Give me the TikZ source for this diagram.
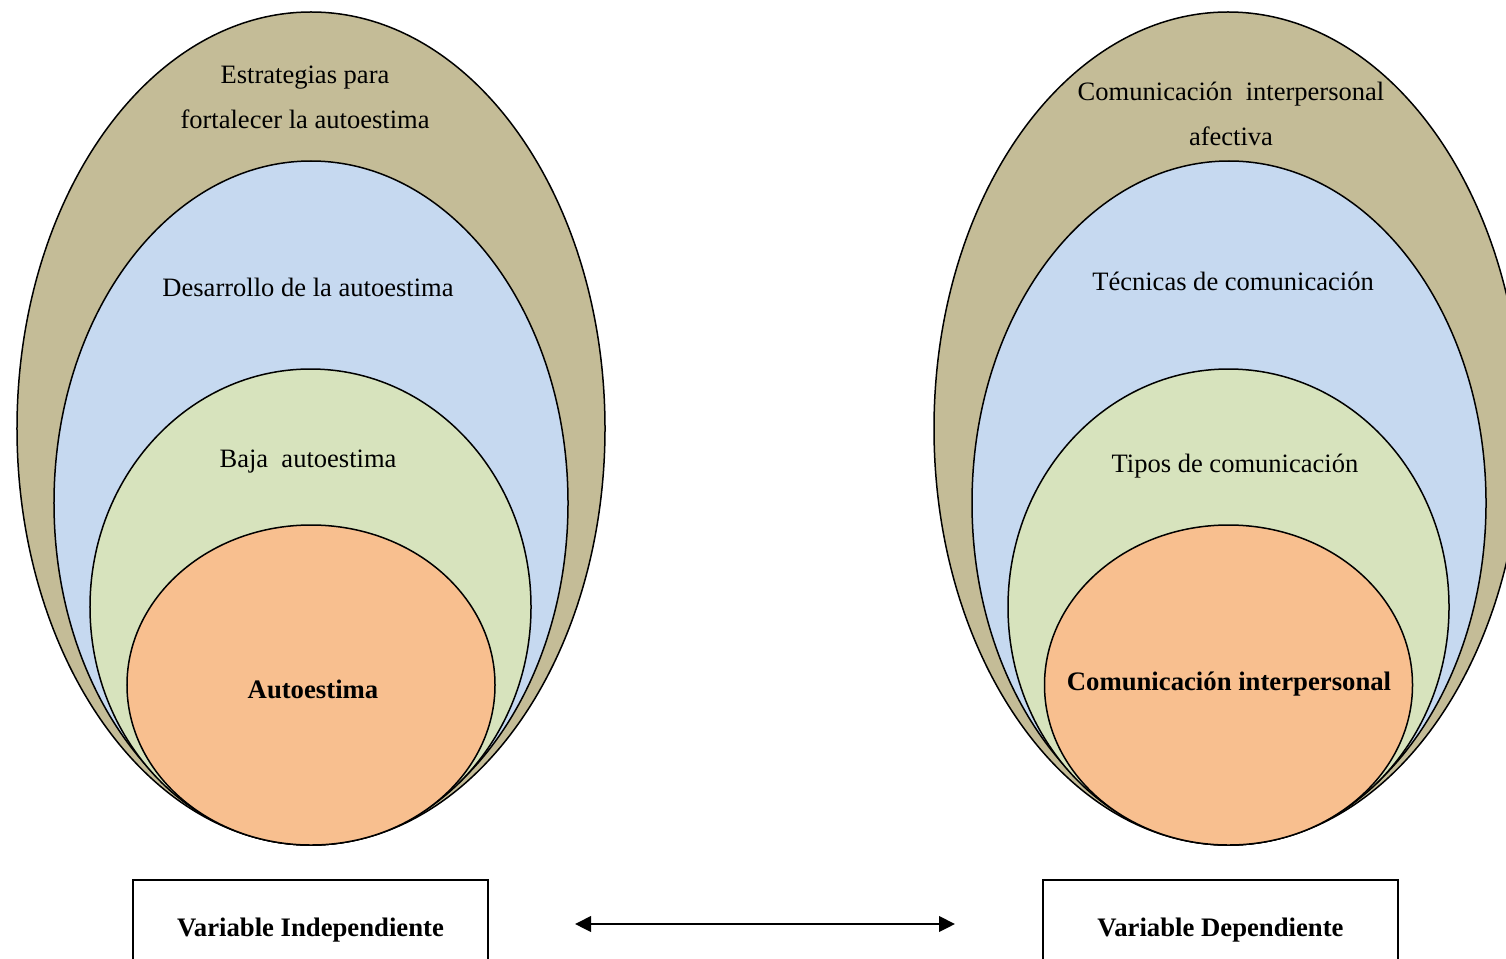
\documentclass[tikz,border=0pt]{standalone}
\usepackage{fontspec}
\setmainfont{Liberation Serif}
\usetikzlibrary{arrows.meta,shapes.geometric}

\definecolor{ringtan}{HTML}{C4BC97}
\definecolor{ringblue}{HTML}{C6D9F0}
\definecolor{ringgreen}{HTML}{D7E3BD}
\definecolor{ringorange}{HTML}{F8BF8F}

\begin{document}
\begin{tikzpicture}[x=0.2mm,y=-0.2mm,
    ring/.style={ellipse,draw=black,line width=0.3mm,inner sep=0pt},
    lbl/.style={align=center,font=\fontsize{15.1}{25.6}\selectfont},
    varbox/.style={draw=black,line width=0.3mm,minimum width=71mm,minimum height=20mm,
      font=\bfseries\fontsize{15.2}{18}\selectfont}]
  \useasboundingbox (0,0) rectangle (1506,958);
  \clip (0,0) rectangle (1506,958);
  % left side
  \node[ring,fill=ringtan,minimum width=117.6mm,minimum height=166.6mm] (E1) at (311,428.5) {};
  \node[ring,fill=ringblue,minimum width=102.8mm,minimum height=136.8mm] (E2) at (311,503) {};
  \node[ring,fill=ringgreen,minimum width=88.2mm,minimum height=95.2mm] (E3) at (310.5,607) {};
  \node[ring,fill=ringorange,minimum width=73.6mm,minimum height=64mm] (E4) at (311,685) {};
  \node[lbl] (T1) at (305,97) {Estrategias para\\fortalecer la autoestima};
  \node[lbl] (T2) at (308,287) {Desarrollo de la autoestima};
  \node[lbl] (T3) at (308,462) {Baja\ \ autoestima};
  \node[lbl,font=\bfseries\fontsize{15.2}{18}\selectfont] (T4) at (313,689) {Autoestima};
  % right side
  \node[ring,fill=ringtan,minimum width=117.6mm,minimum height=166.6mm] (E5) at (1228,428.5) {};
  \node[ring,fill=ringblue,minimum width=102.8mm,minimum height=136.8mm] (E6) at (1229,503) {};
  \node[ring,fill=ringgreen,minimum width=88.2mm,minimum height=95.2mm] (E7) at (1228.5,607) {};
  \node[ring,fill=ringorange,minimum width=73.6mm,minimum height=64mm] (E8) at (1228.5,685) {};
  \node[lbl] (T5) at (1231,114) {Comunicación\ \ interpersonal\\afectiva};
  \node[lbl] (T6) at (1233,281) {Técnicas de comunicación};
  \node[lbl] (T7) at (1235,466) {Tipos de comunicación};
  \node[lbl,font=\bfseries\fontsize{15.2}{18}\selectfont] (T8) at (1229,684) {Comunicación interpersonal};
  % variables
  \node[varbox] (V1) at (310.5,930) {Variable Independiente};
  \node[varbox] (V2) at (1220.5,930) {Variable Dependiente};
  \coordinate (A1) at (575,924);
  \coordinate (A2) at (955,924);
  \draw[{Triangle[length=3.2mm,width=3.1mm]}-{Triangle[length=3.2mm,width=3.1mm]},line width=0.45mm] (A1) -- (A2);
\end{tikzpicture}
\end{document}
